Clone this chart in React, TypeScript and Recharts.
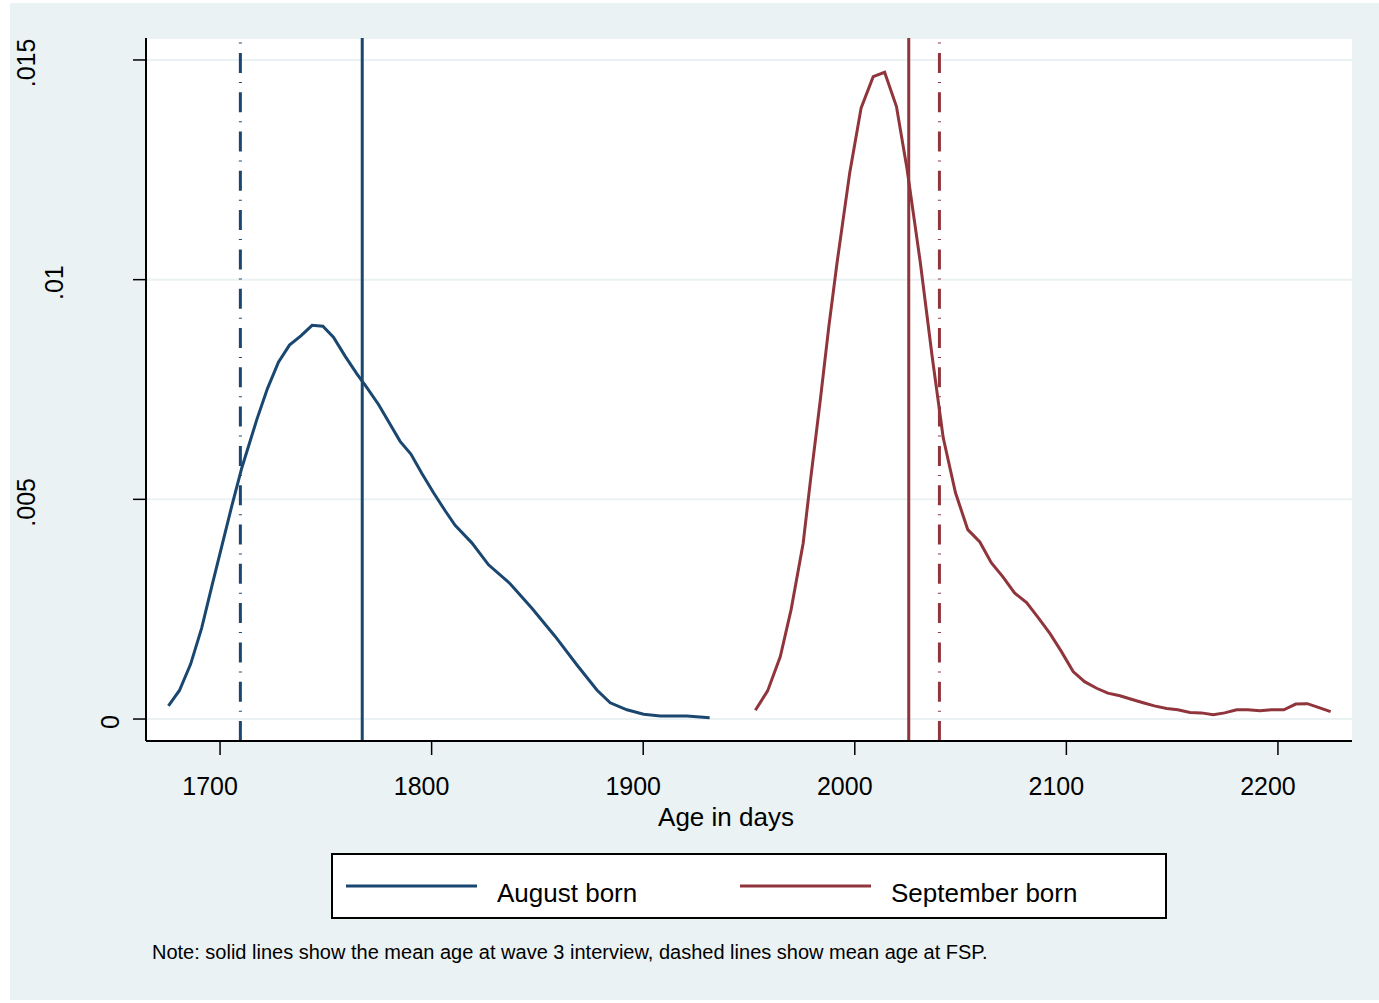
import React from 'react';
import { LineChart, Line, XAxis, YAxis, CartesianGrid, ReferenceLine } from 'recharts';

// kernel density of age in days, August born
const augustAge = [
  1675.6, 1680.8, 1686.1, 1691.3, 1696.1, 1700.8, 1705.5, 1710.3, 1717.4, 1722.4,
  1727.6, 1732.8, 1738.2, 1743.5, 1748.6, 1753.6, 1759.1, 1764.6, 1769.4, 1774.9,
  1780.1, 1785.1, 1790.2, 1795.4, 1800.9, 1806.4, 1811.1, 1819.0, 1826.9, 1837.1,
  1847.4, 1858.4, 1868.7, 1878.1, 1884.4, 1892.3, 1900.2, 1908.1, 1920.7, 1931.4,
];
const augustDensity = [
  0.0003, 0.00065, 0.00125, 0.00207, 0.00302, 0.00393, 0.00484, 0.00572, 0.00682, 0.00752,
  0.00812, 0.00851, 0.00872, 0.00896, 0.00894, 0.00869, 0.00826, 0.00786, 0.00754, 0.00716,
  0.00673, 0.00632, 0.00603, 0.00559, 0.00515, 0.00474, 0.00441, 0.00401, 0.00351, 0.00308,
  0.00252, 0.00188, 0.00123, 0.00066, 0.00037, 0.00021, 0.00011, 0.00007, 0.00007, 0.00003,
];

// kernel density of age in days, September born
const septemberAge = [
  1953.0, 1958.8, 1964.8, 1969.9, 1975.6, 1979.0, 1983.7, 1987.7, 1991.6, 1997.6,
  2003.0, 2008.7, 2014.1, 2019.7, 2024.7, 2031.0, 2036.6, 2041.8, 2047.6, 2053.4,
  2059.1, 2064.5, 2070.1, 2075.5, 2081.2, 2086.5, 2092.2, 2097.6, 2103.2, 2108.6,
  2114.3, 2119.6, 2125.3, 2130.7, 2136.3, 2141.6, 2147.4, 2152.7, 2158.4, 2163.8,
  2169.4, 2174.8, 2180.5, 2185.8, 2191.5, 2196.9, 2202.8, 2208.4, 2213.9, 2219.4,
  2224.9,
];
const septemberDensity = [
  0.0002, 0.00064, 0.00142, 0.00249, 0.004, 0.00541, 0.00726, 0.00892, 0.01038, 0.01243,
  0.01391, 0.01462, 0.01472, 0.01394, 0.01252, 0.01038, 0.00824, 0.0064, 0.00515, 0.00431,
  0.00403, 0.00356, 0.00323, 0.00287, 0.00265, 0.00232, 0.00195, 0.00154, 0.00108, 0.00085,
  0.0007, 0.00059, 0.00053, 0.00045, 0.00037, 0.0003, 0.00024, 0.00021, 0.00015, 0.00014,
  0.0001, 0.00014, 0.00021, 0.00021, 0.00019, 0.00021, 0.00021, 0.00034, 0.00035, 0.00026,
  0.00017,
];

const seriesNames = ['August born', 'September born'];
const seriesColors = ['#1A476F', '#90353B'];
// mean age at wave 3 interview (solid) and mean age at FSP (dashed)
const meanInterview = [1767.2, 2025.5];
const meanFsp = [1709.6, 2040.0];

const xTicks = [1700, 1800, 1900, 2000, 2100, 2200];
const yTicks = [0, 0.005, 0.01, 0.015];
const yTickLabels = ['0', '.005', '.01', '.015'];

const augustData = augustAge.map((x, i) => ({ x, y: augustDensity[i] }));
const septemberData = septemberAge.map((x, i) => ({ x, y: septemberDensity[i] }));
const seriesData = [augustData, septemberData];

const FONT = "'Liberation Sans', Arial, Helvetica, sans-serif";
const BG = '#EAF2F3';
const W = 1369;
const H = 997;

const XTick = (props: any) => {
  const { x, y, payload } = props;
  return (
    <text x={x - 10} y={y + 40} textAnchor="middle" fontSize={25} fontFamily={FONT} fill="#000">
      {payload.value}
    </text>
  );
};

// Stata-style rotated labels: longer labels sit further from the axis
const YTick = (props: any) => {
  const { x, y, payload } = props;
  const idx = yTicks.indexOf(payload.value);
  const label = idx >= 0 ? yTickLabels[idx] : String(payload.value);
  const bx = x + 14 - 28 * label.length;
  const ty = y + 3;
  return (
    <text
      x={bx}
      y={ty}
      transform={`rotate(-90 ${bx} ${ty})`}
      textAnchor="middle"
      fontSize={25}
      fontFamily={FONT}
      fill="#000"
    >
      {label}
    </text>
  );
};

const XTitle = (props: any) => {
  const { viewBox } = props;
  return (
    <text
      x={viewBox.x + viewBox.width / 2 - 23}
      y={viewBox.y + 85}
      textAnchor="middle"
      fontSize={26}
      fontFamily={FONT}
      fill="#000"
    >
      Age in days
    </text>
  );
};

export default function App() {
  return (
    <div style={{ position: 'absolute', left: 10, top: 3, width: W, height: H, background: BG }}>
      <LineChart width={W} height={H} margin={{ top: 35, right: 27, left: 0, bottom: 159 }}>
        <CartesianGrid
          horizontal
          vertical={false}
          fill="#ffffff"
          stroke={BG}
          strokeWidth={2}
        />
        <XAxis
          dataKey="x"
          type="number"
          domain={[1665, 2235]}
          allowDataOverflow
          ticks={xTicks}
          height={100}
          tickSize={14}
          tickMargin={0}
          axisLine={{ stroke: '#000', strokeWidth: 2 }}
          tickLine={{ stroke: '#000', strokeWidth: 1.5 }}
          tick={<XTick />}
          label={<XTitle />}
        />
        <YAxis
          type="number"
          domain={[-0.0005, 0.0155]}
          allowDataOverflow
          ticks={yTicks}
          width={136}
          tickSize={13}
          tickMargin={0}
          axisLine={{ stroke: '#000', strokeWidth: 2 }}
          tickLine={{ stroke: '#000', strokeWidth: 1.5 }}
          tick={<YTick />}
        />
        {seriesData.map((d, i) => (
          <Line
            key={seriesNames[i]}
            data={d}
            dataKey="y"
            name={seriesNames[i]}
            type="linear"
            stroke={seriesColors[i]}
            strokeWidth={3}
            dot={false}
            activeDot={false}
            isAnimationActive={false}
          />
        ))}
        {meanInterview.map((m, i) => (
          <ReferenceLine key={`int-${i}`} x={m} stroke={seriesColors[i]} strokeWidth={3} />
        ))}
        {meanFsp.map((m, i) => (
          <ReferenceLine
            key={`fsp-${i}`}
            x={m}
            stroke={seriesColors[i]}
            strokeWidth={3}
            strokeDasharray="20 9.3 1 9"
          />
        ))}
      </LineChart>

      <svg
        width={W}
        height={H}
        style={{ position: 'absolute', left: 0, top: 0, pointerEvents: 'none' }}
      >
        <rect x={322} y={851} width={834} height={64} fill="#fff" stroke="#000" strokeWidth={2} />
        {seriesNames.map((name, i) => {
          const x0 = i === 0 ? 336 : 730;
          return (
            <g key={name}>
              <line x1={x0} x2={x0 + 131} y1={883} y2={883} stroke={seriesColors[i]} strokeWidth={3} />
              <text x={x0 + 151} y={899} fontSize={26} fontFamily={FONT} fill="#000">
                {name}
              </text>
            </g>
          );
        })}
        <text x={142} y={956} fontSize={20} fontFamily={FONT} fill="#000">
          Note: solid lines show the mean age at wave 3 interview, dashed lines show mean age at FSP.
        </text>
      </svg>
    </div>
  );
}
